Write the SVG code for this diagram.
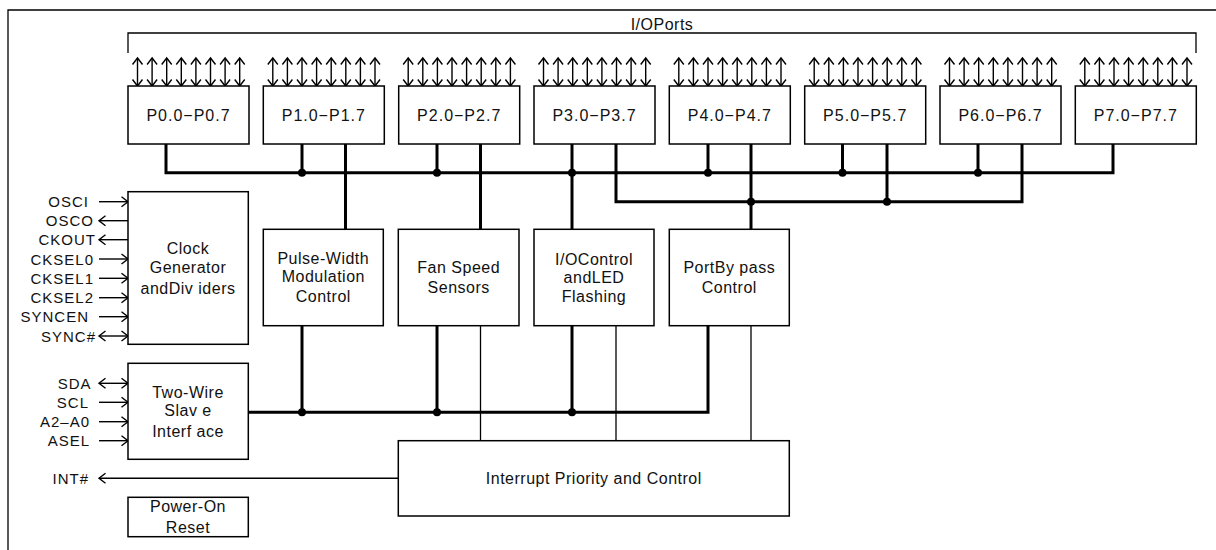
<svg xmlns="http://www.w3.org/2000/svg" xmlns:xlink="http://www.w3.org/1999/xlink" width="1216" height="550" viewBox="0 0 1216 550">
<style>
  .box { fill: #fff; stroke: #000; stroke-width: 1.5; }
  .lbl { font-family: "Liberation Sans", Arial, sans-serif; font-size: 16px; fill: #111; text-anchor: middle; letter-spacing: 0.5px; }
  .plbl { font-family: "Liberation Sans", Arial, sans-serif; font-size: 16px; fill: #111; text-anchor: middle; letter-spacing: 1px; }
  .sig { font-family: "Liberation Sans", Arial, sans-serif; font-size: 15px; fill: #111; text-anchor: end; letter-spacing: 1px; }
  .thin { fill: none; stroke: #000; stroke-width: 1.3; }
  .bus { fill: none; stroke: #000; stroke-width: 3; stroke-linejoin: miter; }
  .dot { fill: #000; }
  .pin { stroke: #000; stroke-width: 1.4; marker-start: url(#ah); marker-end: url(#ah); }
  .in { stroke: #000; stroke-width: 1.4; marker-end: url(#ah); }
  .bi { stroke: #000; stroke-width: 1.4; marker-start: url(#ah); marker-end: url(#ah); }
</style>
<defs>
  <marker id="ah" viewBox="0 0 7 12" refX="7" refY="6" markerWidth="7" markerHeight="12" markerUnits="userSpaceOnUse" orient="auto-start-reverse" overflow="visible">
    <path d="M0.5,1 L7,6 L0.5,11" fill="none" stroke="#000" stroke-width="1.4"/>
  </marker>
  <g id="pins">
    <line class="pin" x1="9.5" y1="58" x2="9.5" y2="86"/>
    <line class="pin" x1="24.1" y1="58" x2="24.1" y2="86"/>
    <line class="pin" x1="38.7" y1="58" x2="38.7" y2="86"/>
    <line class="pin" x1="53.3" y1="58" x2="53.3" y2="86"/>
    <line class="pin" x1="67.9" y1="58" x2="67.9" y2="86"/>
    <line class="pin" x1="82.5" y1="58" x2="82.5" y2="86"/>
    <line class="pin" x1="97.1" y1="58" x2="97.1" y2="86"/>
    <line class="pin" x1="111.7" y1="58" x2="111.7" y2="86"/>
  </g>
</defs>
<rect width="1216" height="550" fill="#fff"/>
<path class="thin" d="M8,550 V10 H1216"/>

<g id="io-ports">
  <path class="thin" d="M128,53 V33 H1196 V53"/>
  <text class="lbl" x="662" y="30">I/OPorts</text>
</g>

<g id="connectors">
  <!-- upper bus 1 -->
  <polyline class="bus" points="166,144 166,172.7 1113,172.7 1113,144"/>
  <line class="bus" x1="302" y1="144" x2="302" y2="172.7"/>
  <line class="bus" x1="437" y1="144" x2="437" y2="172.7"/>
  <line class="bus" x1="572" y1="144" x2="572" y2="229.3"/>
  <line class="bus" x1="708" y1="144" x2="708" y2="172.7"/>
  <line class="bus" x1="842.5" y1="144" x2="842.5" y2="172.7"/>
  <line class="bus" x1="978" y1="144" x2="978" y2="172.7"/>
  <circle class="dot" cx="302" cy="172.7" r="4"/>
  <circle class="dot" cx="437" cy="172.7" r="4"/>
  <circle class="dot" cx="572" cy="172.7" r="4"/>
  <circle class="dot" cx="708" cy="172.7" r="4"/>
  <circle class="dot" cx="842.5" cy="172.7" r="4"/>
  <circle class="dot" cx="978" cy="172.7" r="4"/>
  <line class="bus" x1="345.5" y1="144" x2="345.5" y2="229.3"/>
  <line class="bus" x1="480.5" y1="144" x2="480.5" y2="229.3"/>
  <!-- upper bus 2 -->
  <polyline class="bus" points="616,144 616,201.7 1022,201.7 1022,144"/>
  <line class="bus" x1="751" y1="144" x2="751" y2="229.3"/>
  <line class="bus" x1="887" y1="144" x2="887" y2="201.7"/>
  <circle class="dot" cx="751" cy="201.7" r="4"/>
  <circle class="dot" cx="887" cy="201.7" r="4"/>
  <!-- lower bus -->
  <polyline class="bus" points="708,325.7 708,412.3 248,412.3"/>
  <line class="bus" x1="302" y1="325.7" x2="302" y2="412.3"/>
  <line class="bus" x1="437" y1="325.7" x2="437" y2="412.3"/>
  <line class="bus" x1="572" y1="325.7" x2="572" y2="412.3"/>
  <circle class="dot" cx="302" cy="412.3" r="4"/>
  <circle class="dot" cx="437" cy="412.3" r="4"/>
  <circle class="dot" cx="572" cy="412.3" r="4"/>
  <!-- interrupt lines -->
  <line class="thin" x1="480.5" y1="325.7" x2="480.5" y2="440.7"/>
  <line class="thin" x1="616" y1="325.7" x2="616" y2="440.7"/>
  <line class="thin" x1="751" y1="325.7" x2="751" y2="440.7"/>
  <line class="in" x1="398.3" y1="478.3" x2="99" y2="478.3"/>
  <!-- clock signals -->
  <line class="in" x1="99" y1="201.7" x2="128" y2="201.7"/>
  <line class="in" x1="128" y1="220.7" x2="99" y2="220.7"/>
  <line class="in" x1="128" y1="239.7" x2="99" y2="239.7"/>
  <line class="in" x1="99" y1="259" x2="128" y2="259"/>
  <line class="in" x1="99" y1="278.3" x2="128" y2="278.3"/>
  <line class="in" x1="99" y1="297.7" x2="128" y2="297.7"/>
  <line class="in" x1="99" y1="316.7" x2="128" y2="316.7"/>
  <line class="bi" x1="99" y1="336" x2="128" y2="336"/>
  <!-- two-wire signals -->
  <line class="bi" x1="99" y1="383.3" x2="128" y2="383.3"/>
  <line class="in" x1="99" y1="402.3" x2="128" y2="402.3"/>
  <line class="in" x1="99" y1="421.7" x2="128" y2="421.7"/>
  <line class="in" x1="99" y1="440.7" x2="128" y2="440.7"/>
</g>

<g id="signal-labels">
  <text class="sig" x="89" y="207">OSCI</text>
  <text class="sig" x="94" y="226">OSCO</text>
  <text class="sig" x="96" y="245">CKOUT</text>
  <text class="sig" x="94" y="264.5">CKSEL0</text>
  <text class="sig" x="94" y="283.8">CKSEL1</text>
  <text class="sig" x="94" y="303.2">CKSEL2</text>
  <text class="sig" x="89" y="322.2">SYNCEN</text>
  <text class="sig" x="96" y="341.5">SYNC#</text>
  <text class="sig" x="91.5" y="388.8">SDA</text>
  <text class="sig" x="89" y="407.8">SCL</text>
  <text class="sig" x="90" y="427.2">A2–A0</text>
  <text class="sig" x="90" y="446.2">ASEL</text>
  <text class="sig" x="89" y="483.8">INT#</text>
</g>

<g id="p0"><use xlink:href="#pins" x="128"/><rect class="box" x="128" y="86" width="121" height="58"/><text class="plbl" x="188.5" y="120.5">P0.0−P0.7</text></g>
<g id="p1"><use xlink:href="#pins" x="263.3"/><rect class="box" x="263.3" y="86" width="121" height="58"/><text class="plbl" x="323.8" y="120.5">P1.0−P1.7</text></g>
<g id="p2"><use xlink:href="#pins" x="398.7"/><rect class="box" x="398.7" y="86" width="121" height="58"/><text class="plbl" x="459.2" y="120.5">P2.0−P2.7</text></g>
<g id="p3"><use xlink:href="#pins" x="534"/><rect class="box" x="534" y="86" width="121" height="58"/><text class="plbl" x="594.5" y="120.5">P3.0−P3.7</text></g>
<g id="p4"><use xlink:href="#pins" x="669.3"/><rect class="box" x="669.3" y="86" width="121" height="58"/><text class="plbl" x="729.8" y="120.5">P4.0−P4.7</text></g>
<g id="p5"><use xlink:href="#pins" x="804.7"/><rect class="box" x="804.7" y="86" width="121" height="58"/><text class="plbl" x="865.2" y="120.5">P5.0−P5.7</text></g>
<g id="p6"><use xlink:href="#pins" x="940"/><rect class="box" x="940" y="86" width="121" height="58"/><text class="plbl" x="1000.5" y="120.5">P6.0−P6.7</text></g>
<g id="p7"><use xlink:href="#pins" x="1075.3"/><rect class="box" x="1075.3" y="86" width="121" height="58"/><text class="plbl" x="1135.8" y="120.5">P7.0−P7.7</text></g>

<g id="clock">
  <rect class="box" x="128" y="191.7" width="120.3" height="152.6"/>
  <text class="lbl" x="188" y="253.7">Clock</text>
  <text class="lbl" x="188" y="273.4">Generator</text>
  <text class="lbl" x="188" y="294">andDiv iders</text>
</g>
<g id="pwm">
  <rect class="box" x="263.3" y="229.3" width="120" height="96.4"/>
  <text class="lbl" x="323.3" y="264">Pulse-Width</text>
  <text class="lbl" x="323.3" y="282.4">Modulation</text>
  <text class="lbl" x="323.3" y="302.4">Control</text>
</g>
<g id="fan">
  <rect class="box" x="398.3" y="229.3" width="120.7" height="96.4"/>
  <text class="lbl" x="458.7" y="273">Fan Speed</text>
  <text class="lbl" x="458.7" y="293.4">Sensors</text>
</g>
<g id="ioctl">
  <rect class="box" x="534" y="229.3" width="120" height="96.4"/>
  <text class="lbl" x="594" y="264.7">I/OControl</text>
  <text class="lbl" x="594" y="283">andLED</text>
  <text class="lbl" x="594" y="302.4">Flashing</text>
</g>
<g id="bypass">
  <rect class="box" x="669.3" y="229.3" width="120" height="96.4"/>
  <text class="lbl" x="729.3" y="273">PortBy pass</text>
  <text class="lbl" x="729.3" y="293.4">Control</text>
</g>
<g id="twowire">
  <rect class="box" x="128" y="363.3" width="120.3" height="96"/>
  <text class="lbl" x="188" y="398.4">Two-Wire</text>
  <text class="lbl" x="188" y="416.4">Slav e</text>
  <text class="lbl" x="188" y="436.7">Interf ace</text>
</g>
<g id="interrupt">
  <rect class="box" x="398.3" y="440.7" width="391" height="75.3"/>
  <text class="lbl" x="593.8" y="484">Interrupt Priority and Control</text>
</g>
<g id="por">
  <rect class="box" x="128" y="497.3" width="120.3" height="39.4"/>
  <text class="lbl" x="188" y="512.4">Power-On</text>
  <text class="lbl" x="188" y="533">Reset</text>
</g>
</svg>
